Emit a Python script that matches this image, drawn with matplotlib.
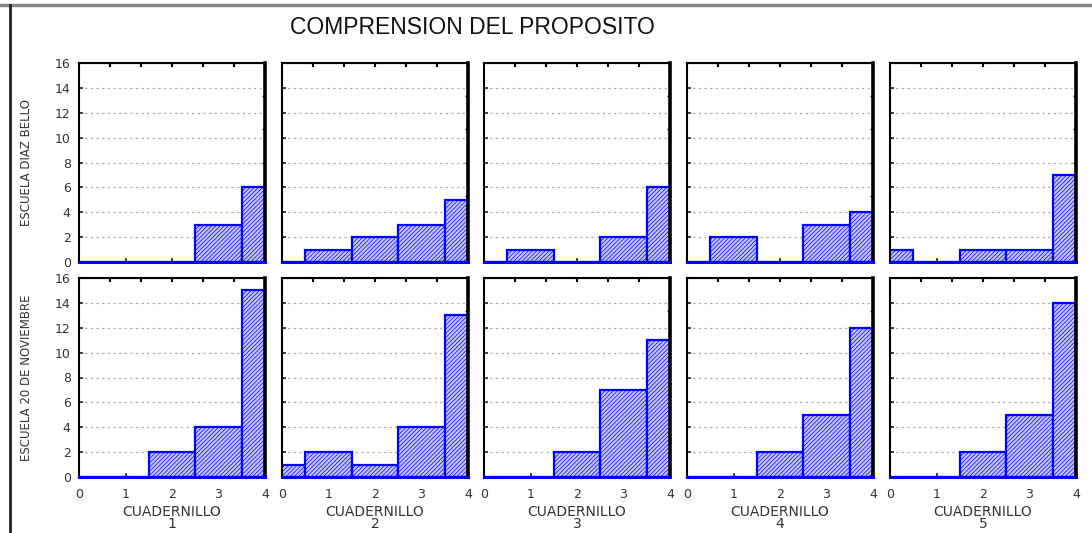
import numpy as np
import matplotlib
matplotlib.use('Agg')
import matplotlib.pyplot as plt
from matplotlib.lines import Line2D

# counts per score (0..4) for each cuadernillo
scores = [0, 1, 2, 3, 4]
cuadernillos = ['1', '2', '3', '4', '5']
diaz_bello = [
    [0, 0, 0, 3, 6],
    [0, 1, 2, 3, 5],
    [0, 1, 0, 2, 6],
    [0, 2, 0, 3, 4],
    [1, 0, 1, 1, 7],
]
nov_20 = [
    [0, 0, 2, 4, 15],
    [1, 2, 1, 4, 13],
    [0, 0, 2, 7, 11],
    [0, 0, 2, 5, 12],
    [0, 0, 2, 5, 14],
]
rows = [('ESCUELA DIAZ BELLO', diaz_bello), ('ESCUELA 20 DE NOVIEMBRE', nov_20)]

plt.rcParams['hatch.linewidth'] = 0.5
W, H = 1092, 533
fig = plt.figure(figsize=(W / 100, H / 100), dpi=100)

lefts = [79, 282, 484, 687, 890]
tops = [63, 278]
pw, ph = 186, 199

for r, (school, data) in enumerate(rows):
    for c in range(5):
        ax = fig.add_axes([lefts[c] / W, 1 - (tops[r] + ph) / H, pw / W, ph / H])
        ax.bar(scores, data[c], width=1.0, facecolor='#c4c4f6', edgecolor='blue',
               hatch='////////', linewidth=1.6, zorder=2)
        ax.axhline(0, color='blue', lw=2.2, zorder=5, clip_on=False)
        ax.set_xlim(0, 4)
        ax.set_ylim(0, 16)
        ax.set_yticks(np.arange(0, 17, 2))
        ax.set_xticks(scores)
        for y in range(2, 16, 2):
            ax.axhline(y, color='#b0b0bc', lw=0.9, linestyle=(0, (2, 2.5)), zorder=1)
        ax.tick_params(direction='in', length=3, width=1.2, colors='#222222',
                       labelcolor='#333333', labelsize=9)
        ax.tick_params(axis='y', pad=6)
        ax.tick_params(axis='x', pad=8)
        for s in ax.spines.values():
            s.set_linewidth(1.5)
        ax.spines['right'].set_linewidth(2.6)
        top = ax.secondary_xaxis('top')
        top.set_xticks([2 / 3, 4 / 3, 2, 8 / 3, 10 / 3])
        top.tick_params(direction='in', length=3, width=1.5, labeltop=False)
        right = ax.secondary_yaxis('right')
        right.set_yticks([8 / 3, 16 / 3, 8, 32 / 3, 40 / 3])
        right.tick_params(direction='in', length=2, width=1.0, labelright=False)
        if c == 0:
            ax.set_ylabel(school, fontsize=8.5, family='DejaVu Sans', color='#333333')
            ax.yaxis.set_label_coords(-0.245, 0.5)
        else:
            ax.set_yticklabels([])
        if r == 1:
            ax.set_xlabel('CUADERNILLO\n' + cuadernillos[c], fontsize=10,
                          family='DejaVu Sans', color='#333333', linespacing=0.8)
            ax.xaxis.set_label_coords(0.5, -0.14)
        else:
            ax.set_xticklabels([])

fig.text(0.433, 1 - 27 / H, 'COMPRENSION DEL PROPOSITO', ha='center', va='center',
         fontsize=16.5, family='Liberation Sans', color='#111111')

# outer frame
fig.add_artist(Line2D([0, 1], [1 - 5 / H, 1 - 5 / H], color='#888888', lw=2.5,
                      transform=fig.transFigure))
fig.add_artist(Line2D([10 / W, 10 / W], [0, 1 - 5 / H], color='#222222', lw=2,
                      transform=fig.transFigure))

fig.savefig('out.png', dpi=100)
